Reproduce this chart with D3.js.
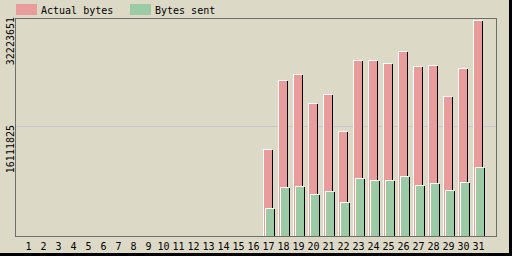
<!DOCTYPE html>
<html>
<head>
<meta charset="utf-8">
<script src="https://cdn.jsdelivr.net/npm/d3@7"></script>
<style>
  body { margin: 0; background: #dcd9c6; }
  svg { display: block; }
  text { font-family: "DejaVu Sans Mono", "Liberation Mono", monospace; font-size: 10px; fill: #000; }
</style>
</head>
<body>
<svg width="512" height="256"></svg>
<script>
// days of the month
var days = d3.range(1, 32);
// bytes per day, 0 before the 17th
var actualBytes = [0,0,0,0,0,0,0,0,0,0,0,0,0,0,0,0,
  12700000, 22810000, 23680000, 19440000, 20750000, 15340000, 25740000, 25740000,
  25300000, 27050000, 24860000, 25000000, 20460000, 24560000, 31590000];
var bytesSent = [0,0,0,0,0,0,0,0,0,0,0,0,0,0,0,0,
  4060000, 7130000, 7280000, 6110000, 6550000, 4940000, 8450000, 8160000,
  8160000, 8740000, 7430000, 7720000, 6690000, 7870000, 10060000];
var yTicks = [16111825, 32223651];
var legendNames = ["Actual bytes", "Bytes sent"];
var colors = ["#e89c9c", "#9ccaa4"];

var svg = d3.select("svg");

var x = d3.scaleBand()
  .domain(days)
  .range([21, 486])
  .paddingInner(0.33)
  .paddingOuter(0.165);
var y = d3.scaleLinear()
  .domain([0, 32223651])
  .range([236, 16]);

// outer black edge
svg.append("rect").attr("x", 509).attr("y", 0).attr("width", 3).attr("height", 256).attr("fill", "#000");
svg.append("rect").attr("x", 0).attr("y", 253).attr("width", 512).attr("height", 3).attr("fill", "#000");

// legend
var leg = svg.selectAll("g.leg").data(legendNames).join("g")
  .attr("class", "leg")
  .attr("transform", (d, i) => "translate(" + (16 + i * 114) + ",0)");
leg.append("rect").attr("x", 0).attr("y", 4).attr("width", 21).attr("height", 11)
  .attr("fill", (d, i) => colors[i]);
leg.append("text").attr("x", 25).attr("y", 14).text(d => d);

// gridline
svg.selectAll("line.grid").data(yTicks.slice(0, 1)).join("line")
  .attr("class", "grid")
  .attr("x1", 16).attr("x2", 496)
  .attr("y1", d => Math.round(y(d)) + 0.5).attr("y2", d => Math.round(y(d)) + 0.5)
  .attr("stroke", "#c6c6cc");

// y labels, rotated
svg.selectAll("text.ylab").data(yTicks).join("text")
  .attr("class", "ylab")
  .attr("text-anchor", "end")
  .attr("transform", d => "translate(14," + (Math.max(y(d), 18) - 1) + ") rotate(-90)")
  .text(d => d);

// bars: black shadow, white highlight, colour fill
function drawBars(values, shift, color, cls) {
  var g = svg.selectAll("g." + cls).data(days.filter((d, i) => values[i] > 0)).join("g")
    .attr("class", cls);
  var top = d => Math.round(y(values[d - 1]));
  var left = d => Math.round(x(d)) + shift;
  g.append("rect").attr("x", d => left(d) + 1).attr("y", d => top(d) + 1)
    .attr("width", 9).attr("height", d => 236 - top(d) - 1).attr("fill", "#000");
  g.append("rect").attr("x", d => left(d)).attr("y", d => top(d))
    .attr("width", 9).attr("height", d => 236 - top(d)).attr("fill", "#fff");
  g.append("rect").attr("x", d => left(d) + 1).attr("y", d => top(d) + 1)
    .attr("width", 8).attr("height", d => 236 - top(d) - 1).attr("fill", color);
}
drawBars(actualBytes, 0, colors[0], "actual");
drawBars(bytesSent, 2, colors[1], "sent");

// frame
svg.append("rect").attr("x", 15.5).attr("y", 18.5).attr("width", 481).attr("height", 218)
  .attr("fill", "none").attr("stroke", "#6e6e6e");

// x labels
var xAxis = svg.append("g")
  .attr("transform", "translate(0,250)")
  .call(d3.axisBottom(x).tickSize(0).tickPadding(0));
xAxis.select(".domain").remove();
xAxis.selectAll("text")
  .attr("dy", 0)
  .attr("y", 0)
  .style("font-family", "'DejaVu Sans Mono', monospace")
  .style("font-size", "10px")
  .attr("fill", "#000");
</script>
</body>
</html>
